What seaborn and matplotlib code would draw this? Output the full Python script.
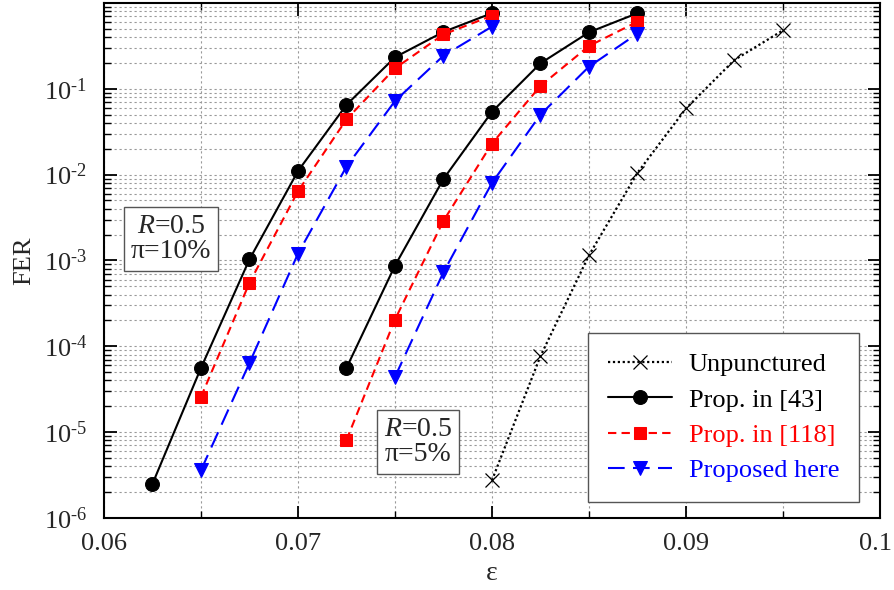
import numpy as np
import pandas as pd
import matplotlib
matplotlib.use("Agg")
import matplotlib.pyplot as plt
import matplotlib.transforms as mtrans
import seaborn as sns
from matplotlib.ticker import LogLocator, MultipleLocator, NullFormatter

# ---- data ----
x_unp = [0.08, 0.0825, 0.085, 0.0875, 0.09, 0.0925, 0.095]
y_unp = [2.75e-6, 7.7e-5, 1.15e-3, 1.05e-2, 0.059, 0.217, 0.48]

x43_10 = [0.0625, 0.065, 0.0675, 0.07, 0.0725, 0.075, 0.0775, 0.08]
y43_10 = [2.5e-6, 5.6e-5, 1.03e-3, 1.1e-2, 0.065, 0.233, 0.46, 0.76]
x118_10 = [0.065, 0.0675, 0.07, 0.0725, 0.075, 0.0775, 0.08]
y118_10 = [2.57e-5, 5.5e-4, 6.4e-3, 0.044, 0.173, 0.43, 0.71]
xph_10 = [0.065, 0.0675, 0.07, 0.0725, 0.075, 0.0775, 0.08]
yph_10 = [3.6e-6, 6.4e-5, 1.2e-3, 0.0124, 0.072, 0.243, 0.53]

x43_5 = [0.0725, 0.075, 0.0775, 0.08, 0.0825, 0.085, 0.0875]
y43_5 = [5.6e-5, 8.7e-4, 8.9e-3, 0.054, 0.198, 0.455, 0.76]
x118_5 = [0.0725, 0.075, 0.0775, 0.08, 0.0825, 0.085, 0.0875]
y118_5 = [8.1e-6, 2.05e-4, 2.9e-3, 0.023, 0.108, 0.315, 0.605]
xph_5 = [0.075, 0.0775, 0.08, 0.0825, 0.085, 0.0875]
yph_5 = [4.4e-5, 7.3e-4, 8.0e-3, 0.050, 0.181, 0.44]

labels = ["Unpunctured", "Prop. in [43]", "Prop. in [118]", "Proposed here"]
xticks = [0.06, 0.07, 0.08, 0.09, 0.1]
xticklabels = ["0.06", "0.07", "0.08", "0.09", "0.1"]
yticks = [1e-6, 1e-5, 1e-4, 1e-3, 1e-2, 1e-1]
yexps = ["\u20106", "\u20105", "\u20104", "\u20103", "\u20102", "\u20101"]

# ---- style ----
sns.set_style("ticks")
plt.rcParams["font.family"] = ["Liberation Serif", "DejaVu Serif"]
plt.rcParams["mathtext.fontset"] = "custom"
plt.rcParams["mathtext.rm"] = "Liberation Serif"
plt.rcParams["mathtext.it"] = "Liberation Serif:italic"
plt.rcParams["mathtext.bf"] = "Liberation Serif:bold"

fig = plt.figure(figsize=(8.94, 5.90), dpi=100)
ax = fig.add_axes([0.1163, 0.122, 0.868, 0.873])

styles = {
    "unp": dict(color="black", linestyle=(0, (1, 1.2)), marker="x", markersize=10,
                markeredgewidth=0.9, linewidth=1.6),
    "43": dict(color="black", linestyle="-", marker="o", markersize=10, linewidth=1.5),
    "118": dict(color="#ff0000", linestyle=(0, (4, 2.5)), marker="s", markersize=9,
                linewidth=1.5),
    "ph": dict(color="#0000ff", linestyle=(0, (8, 4)), marker="v", markersize=10,
               linewidth=1.5),
}

def draw(xs, ys, key, label=None):
    df = pd.DataFrame({"x": xs, "y": ys})
    st = dict(styles[key])
    sns.lineplot(data=df, x="x", y="y", ax=ax, label=label, sort=False,
                 estimator=None, markeredgecolor=st["color"], **st)

draw(x_unp, y_unp, "unp", labels[0])
draw(x43_10, y43_10, "43", labels[1])
draw(x118_10, y118_10, "118", labels[2])
draw(xph_10, yph_10, "ph", labels[3])
draw(x43_5, y43_5, "43")
draw(x118_5, y118_5, "118")
draw(xph_5, yph_5, "ph")

ax.set_yscale("log")
ax.set_xlim(0.06, 0.1)
ax.set_xticks(xticks)
ax.set_xticklabels(xticklabels)
ax.xaxis.set_minor_locator(MultipleLocator(0.005))
ax.yaxis.set_minor_locator(LogLocator(base=10, subs=np.arange(2, 10), numticks=20))
ax.yaxis.set_minor_formatter(NullFormatter())
ax.set_yticks(yticks)
ax.set_yticklabels([r"10$^{\mathrm{%s}}$" % e for e in yexps])
ax.set_ylim(1e-6, 1)

ax.grid(True, which="both", color="#999999", linestyle=(0, (2, 2.5)), linewidth=0.8)
ax.set_axisbelow(True)
ax.tick_params(which="both", direction="in", top=True, right=True, labelsize=19,
               color="black")
ax.tick_params(which="major", length=9, width=1.3)
ax.tick_params(which="minor", length=5, width=1.0)
ax.tick_params(axis="x", pad=11)
ax.tick_params(axis="y", pad=12)
for s in ax.spines.values():
    s.set_linewidth(1.5)
    s.set_color("black")

# keep the last x tick label inside the canvas
last = ax.get_xticklabels()[-1]
last.set_transform(last.get_transform() +
                   mtrans.ScaledTranslation(-4 / 100, 0, fig.dpi_scale_trans))

ax.set_xlabel("ε", fontsize=20, labelpad=4)
ax.set_ylabel("FER", fontsize=19, labelpad=6)

bbox = dict(boxstyle="square,pad=0.25", facecolor="white", edgecolor="#555555", linewidth=1.0)
ax.text(0.086, 0.542, "$R$=0.5\nπ=10%", transform=ax.transAxes, fontsize=20,
        ha="center", va="center", bbox=bbox, linespacing=1.0)
ax.text(0.405, 0.147, "$R$=0.5\nπ=5%", transform=ax.transAxes, fontsize=20,
        ha="center", va="center", bbox=bbox, linespacing=1.0)

leg = ax.legend(loc="lower right", bbox_to_anchor=(0.973, 0.031), fontsize=19,
                frameon=True, fancybox=False, framealpha=1, edgecolor="#555555",
                handlelength=2.4, borderpad=0.75, labelspacing=0.45, handletextpad=0.65,
                borderaxespad=0)
leg.get_frame().set_linewidth(1.0)
for t, c in zip(leg.get_texts(), ["black", "black", "#ff0000", "#0000ff"]):
    t.set_color(c)

fig.savefig("out.png", dpi=100)
